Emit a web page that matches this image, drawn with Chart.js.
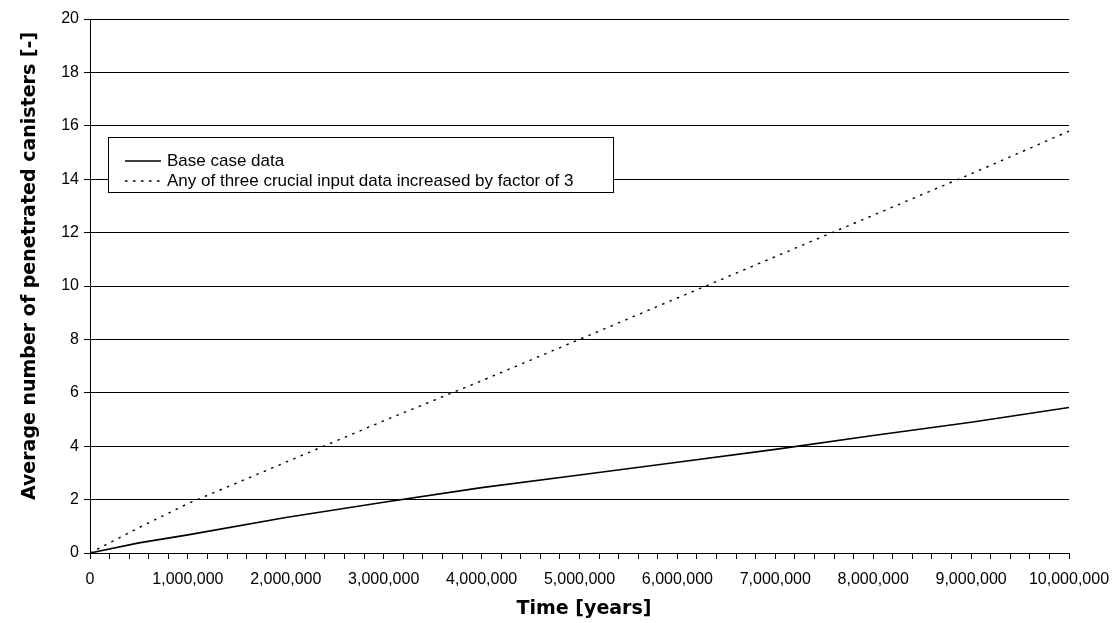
<!DOCTYPE html>
<html>
<head>
<meta charset="utf-8">
<script src="https://cdn.jsdelivr.net/npm/chart.js@4"></script>
<style>
  html, body { margin: 0; padding: 0; background: #fff; }
  #wrap { width: 1113px; height: 623px; }
</style>
</head>
<body>
<div id="wrap"><canvas id="c" width="1113" height="623"></canvas></div>
<script>
const years = [0, 500000, 1000000, 2000000, 3000000, 4000000, 5000000, 6000000, 7000000, 8000000, 9000000, 10000000];
const baseCase = [0, 0.38, 0.68, 1.33, 1.9, 2.45, 2.92, 3.4, 3.88, 4.4, 4.9, 5.45];
const factor3 = [0, 0.95, 1.85, 3.4, 4.95, 6.45, 8.0, 9.55, 11.1, 12.65, 14.2, 15.8];
const seriesLabels = ['Base case data', 'Any of three crucial input data increased by factor of 3'];
const xTitle = 'Time [years]';
const yTitle = 'Average number of penetrated canisters [-]';
const yTicks = [0, 2, 4, 6, 8, 10, 12, 14, 16, 18, 20];

const tickFont = { family: '"Liberation Sans", Arial, sans-serif', size: 16 };

const overlay = {
  id: 'overlay',
  afterDraw(chart) {
    const ctx = chart.ctx;
    ctx.save();
    ctx.fillStyle = '#000';
    ctx.font = 'bold 19px "DejaVu Sans", sans-serif';
    ctx.textAlign = 'center';
    ctx.textBaseline = 'middle';
    ctx.fillText(xTitle, 584, 609);
    ctx.translate(30, 266);
    ctx.rotate(-Math.PI / 2);
    ctx.fillText(yTitle, 0, 0);
    ctx.restore();

    // legend
    ctx.save();
    const bx = 108.5, by = 137.5, bw = 505, bh = 55;
    ctx.fillStyle = '#fff';
    ctx.fillRect(bx, by, bw, bh);
    ctx.strokeStyle = '#000';
    ctx.lineWidth = 1;
    ctx.strokeRect(bx, by, bw, bh);
    const rows = [161, 181];
    chart.data.datasets.forEach((ds, i) => {
      ctx.beginPath();
      ctx.strokeStyle = ds.borderColor;
      ctx.lineWidth = ds.borderWidth;
      ctx.setLineDash(ds.borderDash || []);
      ctx.moveTo(125, rows[i]);
      ctx.lineTo(161, rows[i]);
      ctx.stroke();
      ctx.setLineDash([]);
      ctx.fillStyle = '#000';
      ctx.font = '17px "Liberation Sans", Arial, sans-serif';
      ctx.textAlign = 'left';
      ctx.textBaseline = 'middle';
      ctx.fillText(ds.label, 167, rows[i]);
    });
    ctx.restore();
  }
};

new Chart(document.getElementById('c'), {
  type: 'line',
  data: {
    datasets: [
      {
        label: seriesLabels[0],
        data: years.map((x, i) => ({ x, y: baseCase[i] })),
        borderColor: '#000',
        borderWidth: 1.6,
        pointRadius: 0,
        tension: 0,
        fill: false
      },
      {
        label: seriesLabels[1],
        data: years.map((x, i) => ({ x, y: factor3[i] })),
        borderColor: '#000',
        borderWidth: 1.4,
        borderDash: [2.5, 5.5],
        pointRadius: 0,
        tension: 0,
        fill: false
      }
    ]
  },
  options: {
    responsive: false,
    animation: false,
    layout: { padding: { left: 0, right: 44, top: 19, bottom: 0 } },
    plugins: {
      legend: { display: false },
      tooltip: { enabled: false }
    },
    scales: {
      x: {
        type: 'linear',
        min: 0,
        max: 10000000,
        afterFit(scale) { scale.height = 70; scale.paddingLeft = 0; scale.paddingRight = 0; },
        grid: {
          drawOnChartArea: false,
          drawTicks: true,
          tickLength: 6,
          color: '#000',
          lineWidth: 1
        },
        border: { display: true, color: '#000', width: 1 },
        ticks: {
          stepSize: 200000,
          autoSkip: false,
          maxRotation: 0,
          minRotation: 0,
          padding: 11,
          color: '#000',
          font: tickFont,
          callback: (v) => (v % 1000000 === 0 ? v.toLocaleString('en-US') : '')
        }
      },
      y: {
        min: 0,
        max: 20,
        afterFit(scale) { scale.width = 90; },
        afterBuildTicks(scale) { scale.ticks = yTicks.map(v => ({ value: v })); },
        grid: {
          drawOnChartArea: true,
          drawTicks: true,
          tickLength: 6,
          color: '#000',
          lineWidth: 1
        },
        border: { display: true, color: '#000', width: 1 },
        ticks: {
          padding: 5,
          color: '#000',
          font: tickFont
        }
      }
    }
  },
  plugins: [overlay]
});
</script>
</body>
</html>
